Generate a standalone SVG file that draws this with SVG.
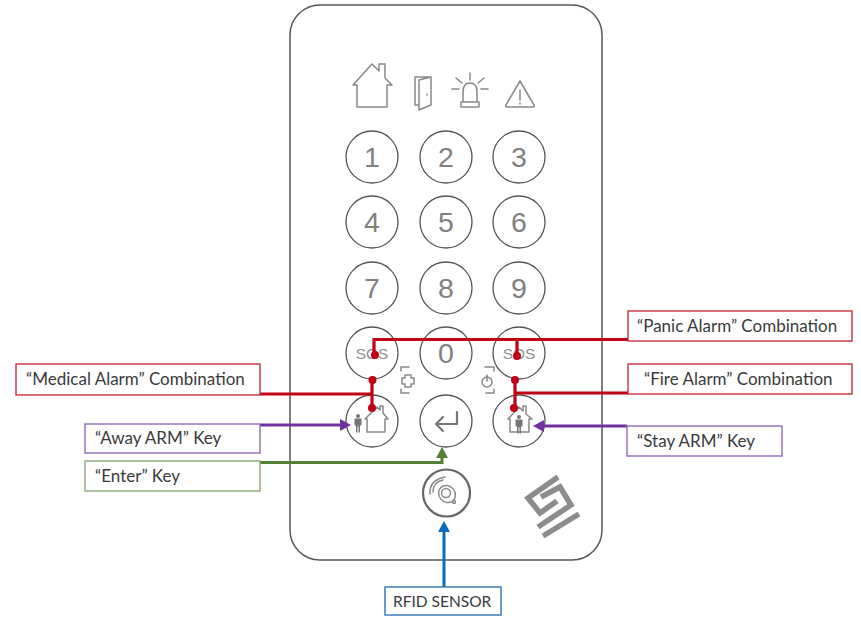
<svg xmlns="http://www.w3.org/2000/svg" width="861" height="617" viewBox="0 0 861 617">
<style>
.key{fill:#fff;stroke:#555;stroke-width:1.300}
.num{font-family:"Liberation Sans",Arial,sans-serif;font-size:28.500px;fill:#808080;text-anchor:middle}
.sos{font-family:"Liberation Sans",Arial,sans-serif;font-size:15.500px;fill:#909090;text-anchor:middle}
.ic{fill:none;stroke:#888;stroke-width:1.500;stroke-linejoin:round;stroke-linecap:round}
.lb{fill:#fff;stroke-width:1.400}
.t{font-family:Lato,"Open Sans",sans-serif;font-size:17px;fill:#3a3a3a}
.r{stroke:#c00014;fill:none;stroke-width:3.200}
.p{stroke:#7030a0;fill:none;stroke-width:3}
.g{stroke:#548235;fill:none;stroke-width:3}
.b{stroke:#0a6cbc;fill:none;stroke-width:3}
.dot{fill:#c00014}
</style>
<defs>
<g id="person"><circle cx="0" cy="-7" r="2" fill="#777"/><path d="M-3.500-4.500h7v7h-1.500v7h-1.500v-6h-1v6h-1.500v-7h-1.500z" fill="#777"/></g>
</defs>
<rect id="body" x="290" y="5" width="312" height="555" rx="30" fill="#fff" stroke="#555" stroke-width="1.500"/>
<g id="status-icons">
<path class="ic" d="M353 85L372 64L379 71V64H385V78L392 85H387V107H357V85Z"/>
<path class="ic" d="M419 80L431 77V105L419 110ZM431 77H415V105H419M427 94V95" stroke-width="1.200"/>
<path class="ic" d="M463 102V92Q463 83 470 83T477 92V102M461 102H479V107H461ZM470 73V80M456 78L462 83M484 78L478 83M452 89H459M481 89H488" stroke-width="1.200"/>
<path class="ic" d="M520 81L534 105Q535 107 533 107H507Q505 107 506 105ZM520 90V100M520 103V104" stroke-width="1.200"/>
</g>
<g id="key-1"><circle class="key" cx="372" cy="157" r="26"/><text class="num" x="372" y="167">1</text></g>
<g id="key-2"><circle class="key" cx="446" cy="157" r="26"/><text class="num" x="446" y="167">2</text></g>
<g id="key-3"><circle class="key" cx="519" cy="157" r="26"/><text class="num" x="519" y="167">3</text></g>
<g id="key-4"><circle class="key" cx="372" cy="222" r="26"/><text class="num" x="372" y="232">4</text></g>
<g id="key-5"><circle class="key" cx="446" cy="222" r="26"/><text class="num" x="446" y="232">5</text></g>
<g id="key-6"><circle class="key" cx="519" cy="222" r="26"/><text class="num" x="519" y="232">6</text></g>
<g id="key-7"><circle class="key" cx="372" cy="288" r="26"/><text class="num" x="372" y="298">7</text></g>
<g id="key-8"><circle class="key" cx="446" cy="288" r="26"/><text class="num" x="446" y="298">8</text></g>
<g id="key-9"><circle class="key" cx="519" cy="288" r="26"/><text class="num" x="519" y="298">9</text></g>
<g id="key-sos-left"><circle class="key" cx="372" cy="353" r="26"/><text class="sos" x="372" y="359">SOS</text></g>
<g id="key-0"><circle class="key" cx="446" cy="353" r="26"/><text class="num" x="446" y="363">0</text></g>
<g id="key-sos-right"><circle class="key" cx="519" cy="353" r="26"/><text class="sos" x="519" y="359">SOS</text></g>
<g id="medical-icon"><path class="ic" d="M409 367H401V371M401 389V393H409" stroke-width="1.200"/><path class="ic" d="M405 375H411V378H414V384H411V387H405V384H402V378H405Z" stroke-width="1.200"/></g>
<g id="fire-icon"><path class="ic" d="M485 367H494V371M494 389V393H486" stroke-width="1.200"/><circle class="ic" cx="487" cy="382" r="5" stroke-width="1.200"/><path class="ic" d="M487 375V381" stroke-width="1.200"/></g>
<g id="key-away"><circle class="key" cx="372" cy="421" r="26"/><path class="ic" d="M365 419L377 407L380 410V406H383V413L388 419H385V432H367V419Z" stroke-width="1.300"/><use href="#person" x="358" y="423"/></g>
<g id="key-enter"><circle class="key" cx="446" cy="421" r="26"/><path class="ic" d="M457 412V424H437M443 417L436 424L443 431" style="stroke:#777;stroke-width:2.200"/></g>
<g id="key-stay"><circle class="key" cx="519" cy="421" r="26"/><path class="ic" d="M508 419L519 407L523 411V406H526V414L532 419H529V432H510V419Z" stroke-width="1.300"/><use href="#person" x="519" y="424"/></g>
<g id="rfid"><circle cx="446.500" cy="493" r="23.500" fill="#fff" stroke="#666" stroke-width="2.200"/><g class="ic" stroke-width="1.200"><ellipse cx="447" cy="494" rx="8" ry="9" transform="rotate(-40 447 494)"/><circle cx="446" cy="493" r="4.500"/><circle cx="454" cy="502" r="1.500"/><path d="M433 492Q433 482 443 480M430 494Q429 480 445 477"/></g></g>
<g id="logo" fill="none" stroke="#8c8c8c" stroke-width="5.500"><path d="M558 477L528 498L540 513L557 501"/><path d="M541 497L560 487L571 505L538 527"/><path d="M543 536L579 514"/></g>
<g id="connectors">
<path class="r" d="M628 339.500H374V355M517 339.500V356"/>
<path class="r" d="M628 393H515M515 380V408"/>
<path class="r" d="M260 394H372M372 380V408"/>
<circle class="dot" cx="375" cy="355" r="4"/><circle class="dot" cx="517" cy="356" r="4"/><circle class="dot" cx="515" cy="380" r="4"/><circle class="dot" cx="514" cy="408" r="4"/><circle class="dot" cx="372.500" cy="380" r="4"/><circle class="dot" cx="372" cy="408" r="4"/>
<path class="p" d="M260 425H343"/><path d="M340 419L351 425L340 431Z" fill="#7030a0"/>
<path class="p" d="M627 426H541"/><path d="M544 420L533 426L544 432Z" fill="#7030a0"/>
<path class="g" d="M260 462.500H442V455"/><path d="M436 458L442 447L448 458Z" fill="#548235"/>
<path class="b" d="M444 587V530"/><path d="M438 532L444 521L450 532Z" fill="#0a6cbc"/>
</g>
<g id="label-panic"><rect class="lb" x="628" y="311" width="224" height="30" stroke="#c8303f"/><text class="t" x="637" y="332">“Panic Alarm” Combination</text></g>
<g id="label-fire"><rect class="lb" x="628" y="364" width="224" height="30" stroke="#c8303f"/><text class="t" x="644" y="385">“Fire Alarm” Combination</text></g>
<g id="label-medical"><rect class="lb" x="16" y="364" width="244" height="31" stroke="#c8303f"/><text class="t" x="26" y="385">“Medical Alarm” Combination</text></g>
<g id="label-away"><rect class="lb" x="85" y="424" width="175" height="29" stroke="#8e6cb8"/><text class="t" x="95" y="444">“Away ARM” Key</text></g>
<g id="label-stay"><rect class="lb" x="627" y="426" width="155" height="30" stroke="#8e6cb8"/><text class="t" x="637" y="447">“Stay ARM” Key</text></g>
<g id="label-enter"><rect class="lb" x="85" y="461" width="175" height="30" stroke="#8aa878"/><text class="t" x="95" y="482">“Enter” Key</text></g>
<g id="label-rfid"><rect class="lb" x="385" y="587" width="116" height="28" stroke="#2e75b6"/><text class="t" x="393" y="607" style="font-size:15.500px">RFID SENSOR</text></g>
</svg>
